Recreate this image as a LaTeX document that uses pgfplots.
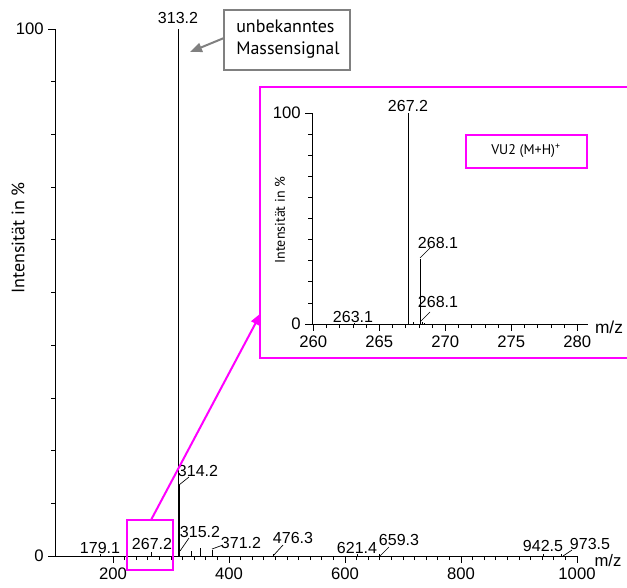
\documentclass[border=0pt]{standalone}
\usepackage{pgfplots}
\pgfplotsset{compat=1.18}
\usetikzlibrary{arrows.meta}
\usepackage{fontspec}
\setmainfont{Liberation Sans}
\newfontfamily\frut{PT Sans}
\definecolor{mag}{RGB}{255,0,255}
\definecolor{annogray}{RGB}{128,128,128}
\begin{document}
\begin{tikzpicture}
\useasboundingbox (0,0) rectangle (470.25pt,440.25pt);
\pgfplotsset{
  ms/.style={
    scale only axis, anchor=south west,
    ymin=0, ymax=100,
    axis lines=left, axis line style={-, line width=0.6pt},
    ytick={0,100}, minor ytick={10,20,...,90},
    tick align=outside,
    major tick length=5pt, minor tick length=3pt,
    tick style={black, line width=0.6pt},
    tick label style={font=\fontsize{12.5}{14}\selectfont},
    /pgf/number format/assume math mode=true,
    /pgf/number format/1000 sep={},
    clip=false,
  }
}
\begin{axis}[ms,
  at={(41.25pt,23.25pt)}, width=391.5pt, height=395.25pt,
  xmin=100, xmax=1000,
  xtick={200,400,600,800,1000}, minor x tick num=9,
]
\addplot[ycomb, black, line width=0.75pt, mark=none] coordinates {
(179.1,0.4) (267.2,0.7) (313.2,100) (314.2,13.5) (315.2,2.0) (335.5,1.0)
(350.5,1.5) (371.2,1.1) (476.3,0.4) (621.4,0.3) (659.3,0.4) (942.5,0.3) (973.5,0.3)
};
\end{axis}
\begin{scope}[x=0.75pt,y=-0.75pt,shift={(0pt,440.25pt)}]
\fill[white] (260,87) rectangle (640,358);
\draw[mag, line width=2pt] (260,87) rectangle (640,358);
\end{scope}
\begin{axis}[ms,
  at={(234pt,197.25pt)}, width=206.9pt, height=158.25pt,
  xmin=259.9, xmax=280.8,
  xtick={260,265,...,280}, minor x tick num=4,
]
\addplot[ycomb, black, line width=0.75pt, mark=none] coordinates {
(263.1,0.3) (267.2,100) (267.6,1.0) (268.1,31) (268.3,0.8) (268.45,0.6)
};
\end{axis}
\begin{scope}[x=0.75pt,y=-0.75pt,shift={(0pt,440.25pt)},
  lbl/.style={font=\fontsize{12}{14}\selectfont, inner sep=0pt}]
% main labels
\node[lbl] at (178,18) {313.2};
\draw[line width=0.5pt] (179,485) -- (189,477);
\node[lbl] at (198,471) {314.2};
\draw[line width=0.5pt] (180,551) -- (189,538);
\node[lbl] at (200,532) {315.2};
\node[lbl] at (152,544) {267.2};
\node[lbl] at (100,548) {179.1};
\draw[line width=0.5pt] (212,549) -- (223,545);
\node[lbl] at (241,543) {371.2};
\draw[line width=0.5pt] (273,556) -- (283,545);
\node[lbl] at (293,538) {476.3};
\node[lbl] at (357,548) {621.4};
\draw[line width=0.5pt] (380,556) -- (389,547);
\node[lbl] at (399,540) {659.3};
\node[lbl] at (543,546) {942.5};
\draw[line width=0.5pt] (563,556) -- (572,550);
\node[lbl] at (590,544) {973.5};
\node[lbl, font=\fontsize{12.5}{14}\selectfont] at (608,561) {m/z};
% inset labels
\node[lbl] at (408,106) {267.2};
\draw[line width=0.5pt] (420,258) -- (430,248);
\node[lbl] at (438,243) {268.1};
\draw[line width=0.5pt] (420,322) -- (430,312);
\node[lbl] at (438,302) {268.1};
\node[lbl] at (353,317) {263.1};
\node[lbl, font=\fontsize{13}{14}\selectfont] at (609,327) {m/z};
% y labels
\node[rotate=90, font=\frut\fontsize{13.5}{15}\selectfont] at (18,238) {Intensität in \%};
\node[rotate=90, font=\frut\fontsize{10.5}{12}\selectfont] at (280,220) {Intensität in \%};
% VU2 box
\draw[mag, line width=1.2pt] (466,135) rectangle (587,168);
\node[font=\frut\fontsize{10.5}{12}\selectfont] at (526,151) {VU2 (M+H)\textsuperscript{+}};
% annotation box
\draw[annogray, line width=1.2pt, fill=white] (224,10) rectangle (350,70);
\node[anchor=west, inner sep=0pt, font=\frut\fontsize{13.5}{15}\selectfont] at (236,26) {unbekanntes};
\node[anchor=west, inner sep=0pt, font=\frut\fontsize{13.5}{15}\selectfont] at (236,50) {Massensignal};
\draw[annogray, line width=1.5pt, -{Triangle[length=9pt,width=7pt]}] (224,38) -- (190,52);
% magenta zoom
\draw[mag, line width=2pt] (127,520) rectangle (173,570);
\draw[mag, line width=1.5pt, -{Triangle[length=9pt,width=7pt]}] (151,520) -- (261,313);
\end{scope}
\end{tikzpicture}
\end{document}
